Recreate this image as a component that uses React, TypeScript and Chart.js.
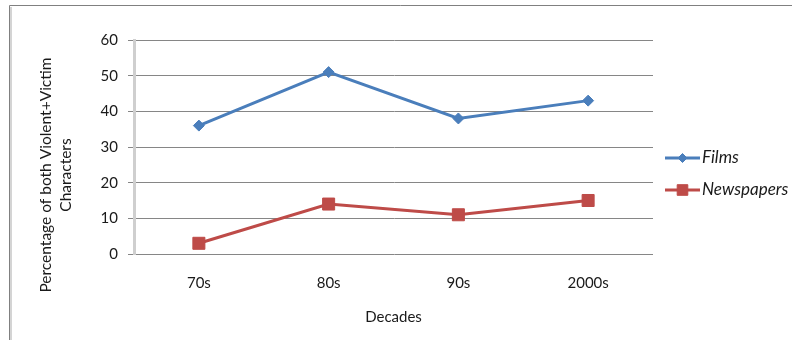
import React, { useEffect, useRef } from 'react';
import { Chart, registerables } from 'chart.js';
import { drawPoint } from 'chart.js/helpers';

Chart.register(...registerables);

// Data
const decades = ['70s', '80s', '90s', '2000s'];
const films = [36, 51, 38, 43];
const newspapers = [3, 14, 11, 15];
const seriesNames = ['Films', 'Newspapers'];
const yMin = 0;
const yMax = 60;
const yStep = 10;
const xTitle = 'Decades';
const yTitleLines = ['Percentage of both Violent+Victim', 'Characters'];

const FONT = 'Lato, sans-serif';
const TEXT = '#1a1a1a';
const BLUE = '#4A7EBB';
const RED = '#BE4B48';

// Outer frame of the chart object
const framePlugin = {
  id: 'frame',
  beforeDraw(chart: any) {
    const { ctx, width, height } = chart;
    ctx.save();
    ctx.strokeStyle = '#d4d4d4';
    ctx.lineWidth = 2;
    ctx.beginPath();
    ctx.moveTo(11, 7);
    ctx.lineTo(11, height);
    ctx.stroke();
    ctx.strokeStyle = '#808080';
    ctx.lineWidth = 1;
    ctx.beginPath();
    ctx.moveTo(9.5, height);
    ctx.lineTo(9.5, 5.5);
    ctx.lineTo(width, 5.5);
    ctx.stroke();
    ctx.restore();
  },
};

// Two-line rotated value-axis title
const yTitlePlugin = {
  id: 'yTitle',
  afterDraw(chart: any) {
    const { ctx, chartArea } = chart;
    const cy = 175;
    ctx.save();
    ctx.fillStyle = TEXT;
    ctx.font = `15.5px ${FONT}`;
    ctx.textAlign = 'center';
    ctx.textBaseline = 'middle';
    yTitleLines.forEach((line, i) => {
      ctx.save();
      ctx.translate(chartArea.left - 88 + i * 20, cy);
      ctx.rotate(-Math.PI / 2);
      ctx.fillText(line, 0, 0);
      ctx.restore();
    });
    ctx.restore();
  },
};

// Legend with line-and-marker swatches
const legendPlugin = {
  id: 'lineLegend',
  afterDraw(chart: any) {
    const { ctx, chartArea } = chart;
    const x0 = chartArea.right + 12;
    const rows = [158, 190];
    const legendRadius = [4.5, 7.5];
    chart.data.datasets.forEach((ds: any, i: number) => {
      const y = rows[i];
      ctx.save();
      ctx.strokeStyle = ds.borderColor;
      ctx.lineWidth = 3;
      ctx.beginPath();
      ctx.moveTo(x0, y);
      ctx.lineTo(x0 + 35, y);
      ctx.stroke();
      ctx.fillStyle = ds.pointBackgroundColor;
      ctx.strokeStyle = ds.pointBorderColor;
      ctx.lineWidth = 1;
      drawPoint(ctx, { pointStyle: ds.pointStyle, radius: legendRadius[i], rotation: 0, borderWidth: 1 }, x0 + 17.5, y);
      ctx.fillStyle = TEXT;
      ctx.font = `italic 17px ${FONT}`;
      ctx.textAlign = 'left';
      ctx.textBaseline = 'middle';
      ctx.fillText(ds.label, x0 + 37, y);
      ctx.restore();
    });
  },
};

export default function App() {
  const canvasRef = useRef<HTMLCanvasElement | null>(null);

  useEffect(() => {
    const canvas = canvasRef.current;
    if (!canvas) return;
    const chart = new Chart(canvas, {
      type: 'line',
      data: {
        labels: decades,
        datasets: [
          {
            label: seriesNames[0],
            data: films,
            borderColor: BLUE,
            backgroundColor: BLUE,
            pointBackgroundColor: BLUE,
            pointBorderColor: BLUE,
            borderWidth: 3,
            pointStyle: 'rectRot',
            pointRadius: 5.5,
            pointBorderWidth: 1,
            tension: 0,
            fill: false,
          },
          {
            label: seriesNames[1],
            data: newspapers,
            borderColor: RED,
            backgroundColor: RED,
            pointBackgroundColor: RED,
            pointBorderColor: RED,
            borderWidth: 3,
            pointStyle: 'rect',
            pointRadius: 8.5,
            pointBorderWidth: 1,
            tension: 0,
            fill: false,
          },
        ],
      },
      options: {
        responsive: false,
        animation: false,
        devicePixelRatio: 1,
        layout: { padding: { left: 0, top: 40, right: 139, bottom: 10 } },
        plugins: {
          legend: { display: false },
          tooltip: { enabled: false },
        },
        scales: {
          x: {
            type: 'category',
            offset: true,
            grid: { display: false, drawTicks: false },
            border: { display: false },
            ticks: { color: TEXT, font: { family: FONT, size: 15 }, padding: 20, maxRotation: 0 },
            title: {
              display: true,
              text: xTitle,
              color: TEXT,
              font: { family: FONT, size: 15 },
              padding: { top: 0, bottom: 4 },
            },
            afterFit(scale: any) {
              scale.height = 76;
            },
          },
          y: {
            min: yMin,
            max: yMax,
            ticks: { stepSize: yStep, color: TEXT, font: { family: FONT, size: 15 }, padding: 10 },
            grid: { color: '#868686', lineWidth: 1, tickLength: 6, drawTicks: true },
            border: { display: true, color: '#cfcfcf', width: 3 },
            afterFit(scale: any) {
              scale.width = 134;
            },
          },
        },
      },
      plugins: [framePlugin, yTitlePlugin, legendPlugin],
    });
    return () => chart.destroy();
  }, []);

  return (
    <div style={{ position: 'fixed', left: 0, top: 0, width: 792, height: 340, background: '#fff', overflow: 'hidden' }}>
      <canvas ref={canvasRef} width={792} height={340} style={{ display: 'block' }} />
    </div>
  );
}
